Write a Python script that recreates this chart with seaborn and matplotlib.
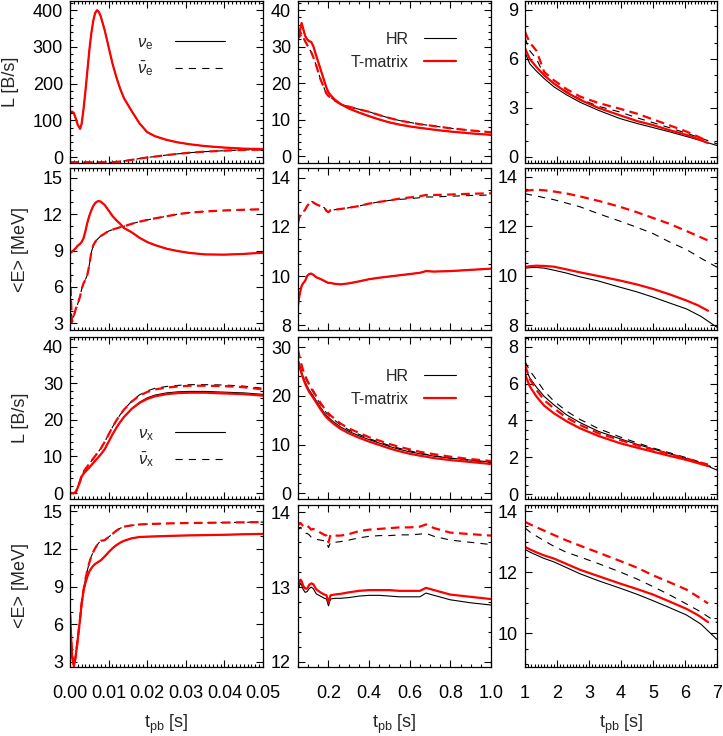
import matplotlib
matplotlib.use("Agg")
import matplotlib.pyplot as plt
from matplotlib.lines import Line2D
from matplotlib.ticker import MultipleLocator
import seaborn as sns

# ---------------- column 1 : t_pb 0 - 0.05 s ----------------
t1 = [0, 0.0005, 0.001, 0.0015, 0.002, 0.0026, 0.003, 0.0035, 0.004, 0.0045,
      0.005, 0.0055, 0.006, 0.0065, 0.007, 0.0075, 0.008, 0.009, 0.01, 0.011,
      0.012, 0.013, 0.014, 0.016, 0.018, 0.02, 0.022, 0.025, 0.028, 0.031,
      0.035, 0.04, 0.045, 0.05]

nue_L_c1 = [121, 124, 120, 105, 88, 77, 90, 130, 180, 235,
            290, 335, 370, 392, 400, 395, 382, 345, 300, 255,
            218, 186, 160, 125, 92, 68, 57, 47, 40, 35,
            30, 26, 23, 22]
anue_L_c1 = [-14, -14, -14, -14, -14, -14, -14, -14, -14, -14,
             -14, -14, -14, -14, -14, -14, -14, -14, -14, -14,
             -13, -12, -10.5, -7.5, -4, -1, 1.5, 5.5, 9, 12,
             15, 17.5, 19.5, 20.5]
nue_E_c1 = [8.77, 8.9, 9.05, 9.2, 9.4, 9.55, 9.7, 10.0, 10.6, 11.3,
            11.85, 12.3, 12.65, 12.9, 13.03, 13.08, 13.02, 12.75, 12.3, 11.85,
            11.5, 11.2, 10.85, 10.5, 10.05, 9.7, 9.45, 9.15, 8.95, 8.8,
            8.68, 8.66, 8.72, 8.82]
anue_E_c1 = [7.1, 3.1, 3.6, 4.2, 4.6, 5.2, 5.8, 6.3, 6.6, 7.0,
             7.8, 8.8, 9.4, 9.7, 9.9, 10.05, 10.2, 10.4, 10.6, 10.72,
             10.82, 10.92, 11.0, 11.2, 11.38, 11.52, 11.65, 11.82, 12.0, 12.12,
             12.22, 12.3, 12.36, 12.4]
nux_L_c1 = [0, 0, 0, 0.3, 1.5, 3.2, 4.5, 5.3, 5.9, 6.4,
            7.0, 7.6, 8.2, 8.8, 9.4, 10.0, 10.6, 12.0, 14.0, 16.0,
            17.8, 19.4, 20.8, 23.0, 24.6, 25.7, 26.4, 27.0, 27.3, 27.4,
            27.4, 27.2, 27.0, 26.6]
anux_L_c1 = [0, 0, 0, 0.3, 1.5, 3.3, 4.8, 5.8, 6.6, 7.3,
             8.0, 8.7, 9.4, 10.1, 10.8, 11.5, 12.2, 14.0, 16.0, 18.0,
             19.8, 21.4, 22.8, 25.0, 26.6, 27.6, 28.3, 28.8, 29.1, 29.3,
             29.3, 29.2, 28.9, 28.3]
nux_L_c1_hr = [0, 0, 0, 0.3, 1.5, 3.2, 4.5, 5.3, 5.9, 6.4,
               7.0, 7.6, 8.2, 8.8, 9.4, 10.0, 10.6, 12.0, 14.0, 16.0,
               17.8, 19.4, 20.8, 23.1, 24.8, 26.0, 26.75, 27.35, 27.65, 27.75,
               27.75, 27.55, 27.35, 26.95]
anux_L_c1_hr = [0, 0, 0, 0.3, 1.5, 3.3, 4.8, 5.8, 6.6, 7.3,
                8.0, 8.7, 9.4, 10.1, 10.8, 11.5, 12.2, 14.0, 16.0, 18.0,
                19.8, 21.4, 22.8, 25.1, 26.8, 27.9, 28.6, 29.1, 29.4, 29.6,
                29.6, 29.5, 29.2, 28.6]
nux_E_c1 = [6.8, 3.6, 2.65, 3.5, 4.8, 6.4, 7.6, 8.7, 9.3, 9.8,
            10.2, 10.45, 10.65, 10.8, 10.9, 11.0, 11.1, 11.4, 11.75, 12.05,
            12.3, 12.5, 12.65, 12.85, 12.95, 12.98, 13.0, 13.03, 13.06, 13.08,
            13.1, 13.13, 13.17, 13.2]
anux_E_c1 = [6.8, 3.6, 2.65, 3.5, 4.8, 6.4, 7.6, 8.7, 9.6, 10.3,
             10.9, 11.4, 11.75, 12.05, 12.3, 12.5, 12.65, 12.7, 12.95, 13.2,
             13.45, 13.65, 13.78, 13.88, 13.95, 13.98, 14.0, 14.03, 14.05, 14.07,
             14.08, 14.1, 14.12, 14.14]

# ---------------- column 2 : t_pb 0.05 - 1.0 s ----------------
t2 = [0.05, 0.055, 0.062, 0.068, 0.075, 0.085, 0.095, 0.105, 0.115, 0.125,
      0.14, 0.16, 0.18, 0.19, 0.2, 0.21, 0.23, 0.26, 0.3, 0.35,
      0.4, 0.45, 0.5, 0.55, 0.6, 0.65, 0.68, 0.72, 0.8, 0.9, 1.0]

nue_L_c2 = [34, 32.5, 35, 36.5, 35, 33, 32, 31.5, 31.3, 30.2,
            27.5, 24, 20.5, 18.8, 17.5, 16.8, 15.6, 14.3, 13.1, 12.0,
            11.0, 10.1, 9.3, 8.7, 8.2, 7.8, 7.6, 7.3, 6.8, 6.3, 5.9]
anue_L_c2 = [34.5, 33.2, 33, 33.5, 32.8, 31.5, 30.5, 29.5, 28.5, 27.2,
             24.8, 21.2, 18.5, 17.2, 16.5, 16.2, 15.3, 14.3, 13.6, 12.9,
             12.2, 11.3, 10.5, 9.8, 9.3, 8.8, 8.6, 8.3, 7.7, 7.1, 6.6]
nue_E_c2 = [8.8, 9.1, 9.4, 9.6, 9.7, 9.8, 10.0, 10.08, 10.1, 10.05,
            9.95, 9.88, 9.8, 9.75, 9.72, 9.72, 9.68, 9.66, 9.7, 9.78,
            9.87, 9.93, 9.98, 10.03, 10.08, 10.13, 10.2, 10.18, 10.2, 10.25, 10.3]
anue_E_c2 = [12.15, 12.35, 12.5, 12.55, 12.6, 12.7, 12.85, 12.95, 13.05, 13.0,
             12.92, 12.85, 12.78, 12.65, 12.6, 12.68, 12.7, 12.73, 12.78, 12.85,
             12.95, 13.02, 13.08, 13.15, 13.2, 13.25, 13.3, 13.3, 13.32, 13.35, 13.37]
anue_E_c2_hr = [12.15, 12.35, 12.5, 12.55, 12.6, 12.7, 12.85, 12.95, 13.05, 13.0,
                12.92, 12.85, 12.78, 12.65, 12.6, 12.68, 12.7, 12.73, 12.78, 12.85,
                12.95, 13.02, 13.08, 13.12, 13.15, 13.19, 13.22, 13.22, 13.25, 13.28, 13.3]
nux_L_c2 = [27.2, 26.4, 25.3, 24.5, 23.6, 22.5, 21.6, 20.8, 20.2, 19.6,
            18.6, 17.3, 16.1, 15.6, 15.2, 14.8, 14.1, 13.2, 12.3, 11.4,
            10.6, 9.9, 9.2, 8.6, 8.1, 7.7, 7.5, 7.2, 6.8, 6.4, 6.0]
nux_L_c2_hr = [27.6, 26.8, 25.7, 24.9, 24.0, 22.9, 22.0, 21.2, 20.6, 20.0,
               19.0, 17.7, 16.5, 16.0, 15.6, 15.2, 14.5, 13.6, 12.7, 11.8,
               11.0, 10.3, 9.6, 9.0, 8.5, 8.1, 7.9, 7.6, 7.2, 6.8, 6.4]
anux_L_c2 = [29.5, 28.5, 27.3, 26.3, 25.3, 24.2, 23.2, 22.4, 21.7, 21.0,
             19.9, 18.6, 17.4, 16.8, 16.4, 16.0, 15.3, 14.3, 13.3, 12.4,
             11.5, 10.8, 10.1, 9.5, 9.0, 8.5, 8.3, 8.0, 7.5, 7.0, 6.6]
anux_L_c2_hr = [29.2, 28.2, 27.0, 26.0, 25.0, 23.9, 22.9, 22.1, 21.4, 20.7,
                19.6, 18.3, 17.1, 16.5, 16.1, 15.7, 15.0, 14.0, 13.0, 12.1,
                11.2, 10.5, 9.8, 9.2, 8.7, 8.2, 8.0, 7.7, 7.2, 6.7, 6.3]
nux_E_c2 = [13.09, 13.05, 13.1, 13.08, 13.02, 12.98, 12.98, 13.03, 13.05, 13.04,
            12.97, 12.93, 12.9, 12.89, 12.8, 12.89, 12.9, 12.91, 12.93, 12.95,
            12.96, 12.96, 12.96, 12.95, 12.95, 12.95, 12.99, 12.96, 12.9, 12.87, 12.84]
nux_E_c2_hr = [13.05, 13.0, 13.05, 13.03, 12.97, 12.93, 12.94, 12.98, 13.0, 12.98,
               12.91, 12.88, 12.85, 12.84, 12.75, 12.84, 12.85, 12.85, 12.86, 12.88,
               12.89, 12.89, 12.88, 12.87, 12.87, 12.87, 12.92, 12.89, 12.83, 12.79, 12.76]
anux_E_c2 = [13.87, 13.84, 13.86, 13.84, 13.82, 13.8, 13.82, 13.8, 13.77, 13.78,
             13.76, 13.73, 13.7, 13.69, 13.6, 13.7, 13.69, 13.69, 13.71, 13.75,
             13.77, 13.78, 13.79, 13.8, 13.8, 13.81, 13.84, 13.79, 13.73, 13.71, 13.69]
anux_E_c2_hr = [13.82, 13.78, 13.8, 13.77, 13.75, 13.72, 13.72, 13.7, 13.67, 13.66,
                13.64, 13.63, 13.62, 13.61, 13.53, 13.6, 13.6, 13.61, 13.63, 13.66,
                13.68, 13.69, 13.69, 13.7, 13.7, 13.71, 13.72, 13.68, 13.63, 13.6, 13.57]

# ---------------- column 3 : t_pb 1 - 7 s ----------------
t3_tm = [1.0, 1.15, 1.36, 1.6, 1.9, 2.3, 2.72, 3.3, 3.97, 4.5, 5.0, 5.5, 6.05, 6.4, 6.72]
t3_hr = [1.0, 1.15, 1.36, 1.6, 1.9, 2.3, 2.72, 3.3, 3.97, 4.5, 5.0, 5.5, 6.05, 6.5, 7.0]

nue_L_c3 = [6.65, 6.0, 5.5, 5.0, 4.5, 3.95, 3.5, 3.0, 2.55, 2.2, 1.95, 1.65, 1.35, 1.1, 0.85]
anue_L_c3 = [7.65, 7.0, 6.5, 5.2, 4.7, 4.15, 3.7, 3.3, 2.95, 2.65, 2.3, 1.95, 1.55, 1.25, 0.95]
nue_L_c3_hr = [6.4, 5.7, 5.25, 4.8, 4.3, 3.8, 3.35, 2.85, 2.35, 2.05, 1.8, 1.55, 1.25, 1.0, 0.7]
anue_L_c3_hr = [7.3, 6.5, 6.0, 5.0, 4.5, 4.0, 3.55, 3.1, 2.75, 2.4, 2.1, 1.8, 1.45, 1.15, 0.8]
nue_E_c3 = [10.34, 10.38, 10.4, 10.39, 10.36, 10.25, 10.13, 9.98, 9.8, 9.64, 9.46, 9.25, 8.99, 8.8, 8.58]
anue_E_c3 = [13.42, 13.45, 13.47, 13.45, 13.4, 13.32, 13.2, 13.02, 12.78, 12.56, 12.33, 12.1, 11.8, 11.6, 11.42]
nue_E_c3_hr = [10.3, 10.32, 10.33, 10.3, 10.22, 10.1, 9.95, 9.78, 9.53, 9.34, 9.13, 8.9, 8.65, 8.35, 7.91]
anue_E_c3_hr = [13.31, 13.27, 13.22, 13.15, 13.07, 12.93, 12.78, 12.5, 12.2, 11.95, 11.7, 11.37, 11.05, 10.7, 10.34]
nux_L_c3 = [6.5, 5.85, 5.29, 4.8, 4.39, 3.95, 3.57, 3.15, 2.76, 2.52, 2.3, 2.08, 1.85, 1.68, 1.52]
anux_L_c3 = [7.0, 6.25, 5.65, 5.1, 4.66, 4.15, 3.75, 3.3, 2.93, 2.65, 2.42, 2.18, 1.93, 1.75, 1.6]
nux_L_c3_hr = [6.9, 6.3, 5.8, 5.3, 4.85, 4.3, 3.88, 3.4, 3.0, 2.7, 2.45, 2.2, 1.92, 1.68, 1.3]
anux_L_c3_hr = [7.2, 6.7, 6.2, 5.6, 5.05, 4.5, 4.05, 3.55, 3.1, 2.78, 2.5, 2.25, 1.97, 1.72, 1.35]
nux_E_c3 = [12.83, 12.75, 12.65, 12.55, 12.45, 12.27, 12.08, 11.87, 11.63, 11.45, 11.27, 11.05, 10.8, 10.6, 10.37]
anux_E_c3 = [13.65, 13.57, 13.47, 13.36, 13.22, 13.04, 12.87, 12.64, 12.37, 12.15, 11.9, 11.68, 11.43, 11.2, 10.98]
nux_E_c3_hr = [12.75, 12.66, 12.56, 12.45, 12.34, 12.15, 11.95, 11.72, 11.48, 11.28, 11.07, 10.85, 10.6, 10.3, 9.8]
anux_E_c3_hr = [13.45, 13.32, 13.18, 13.03, 12.85, 12.65, 12.5, 12.28, 12.01, 11.78, 11.53, 11.27, 10.96, 10.7, 10.35]

# ---------------- style ----------------
sns.set_style("ticks")
plt.rcParams["font.family"] = ["Liberation Sans", "DejaVu Sans"]
plt.rcParams["mathtext.fontset"] = "custom"
plt.rcParams["mathtext.rm"] = "Liberation Sans"
plt.rcParams["mathtext.it"] = "Liberation Sans:italic"
plt.rcParams["font.size"] = 13

RED_DASH = (0, (3.9, 2.4))
BLK_DASH = (0, (6.5, 5.5))


def curve(ax, t, y, hr=False, dashed=False):
    if hr:
        sns.lineplot(x=t, y=y, ax=ax, color="black", linewidth=0.8,
                     linestyle=BLK_DASH if dashed else "-",
                     estimator=None, sort=False, errorbar=None)
    else:
        sns.lineplot(x=t, y=y, ax=ax, color="red", linewidth=1.6,
                     linestyle=RED_DASH if dashed else "-",
                     estimator=None, sort=False, errorbar=None)


fig = plt.figure(figsize=(7.23, 7.36), dpi=100)
lefts = [70, 298, 525]
widths = [193, 193, 192]
tops = [1, 168, 337, 505]
axes = [[fig.add_axes([lefts[c] / 723, 1 - (tops[r] + 162) / 736,
                       widths[c] / 723, 162 / 736]) for c in range(3)]
        for r in range(4)]

# row 1: nu_e luminosity
curve(axes[0][0], t1, nue_L_c1, hr=True)
curve(axes[0][0], t1, anue_L_c1, hr=True, dashed=True)
curve(axes[0][0], t1, nue_L_c1)
curve(axes[0][0], t1, anue_L_c1, dashed=True)
curve(axes[0][1], t2, nue_L_c2, hr=True)
curve(axes[0][1], t2, anue_L_c2, hr=True, dashed=True)
curve(axes[0][1], t2, nue_L_c2)
curve(axes[0][1], t2, anue_L_c2, dashed=True)
curve(axes[0][2], t3_hr, nue_L_c3_hr, hr=True)
curve(axes[0][2], t3_hr, anue_L_c3_hr, hr=True, dashed=True)
curve(axes[0][2], t3_tm, nue_L_c3)
curve(axes[0][2], t3_tm, anue_L_c3, dashed=True)

# row 2: nu_e mean energy
curve(axes[1][0], t1, nue_E_c1, hr=True)
curve(axes[1][0], t1, anue_E_c1, hr=True, dashed=True)
curve(axes[1][0], t1, nue_E_c1)
curve(axes[1][0], t1, anue_E_c1, dashed=True)
curve(axes[1][1], t2, nue_E_c2, hr=True)
curve(axes[1][1], t2, anue_E_c2_hr, hr=True, dashed=True)
curve(axes[1][1], t2, nue_E_c2)
curve(axes[1][1], t2, anue_E_c2, dashed=True)
curve(axes[1][2], t3_hr, nue_E_c3_hr, hr=True)
curve(axes[1][2], t3_hr, anue_E_c3_hr, hr=True, dashed=True)
curve(axes[1][2], t3_tm, nue_E_c3)
curve(axes[1][2], t3_tm, anue_E_c3, dashed=True)

# row 3: nu_x luminosity
curve(axes[2][0], t1, nux_L_c1_hr, hr=True)
curve(axes[2][0], t1, anux_L_c1_hr, hr=True, dashed=True)
curve(axes[2][0], t1, nux_L_c1)
curve(axes[2][0], t1, anux_L_c1, dashed=True)
curve(axes[2][1], t2, nux_L_c2_hr, hr=True)
curve(axes[2][1], t2, anux_L_c2_hr, hr=True, dashed=True)
curve(axes[2][1], t2, nux_L_c2)
curve(axes[2][1], t2, anux_L_c2, dashed=True)
curve(axes[2][2], t3_hr, nux_L_c3_hr, hr=True)
curve(axes[2][2], t3_hr, anux_L_c3_hr, hr=True, dashed=True)
curve(axes[2][2], t3_tm, nux_L_c3)
curve(axes[2][2], t3_tm, anux_L_c3, dashed=True)

# row 4: nu_x mean energy
curve(axes[3][0], t1, nux_E_c1, hr=True)
curve(axes[3][0], t1, anux_E_c1, hr=True, dashed=True)
curve(axes[3][0], t1, nux_E_c1)
curve(axes[3][0], t1, anux_E_c1, dashed=True)
curve(axes[3][1], t2, nux_E_c2_hr, hr=True)
curve(axes[3][1], t2, anux_E_c2_hr, hr=True, dashed=True)
curve(axes[3][1], t2, nux_E_c2)
curve(axes[3][1], t2, anux_E_c2, dashed=True)
curve(axes[3][2], t3_hr, nux_E_c3_hr, hr=True)
curve(axes[3][2], t3_hr, anux_E_c3_hr, hr=True, dashed=True)
curve(axes[3][2], t3_tm, nux_E_c3)
curve(axes[3][2], t3_tm, anux_E_c3, dashed=True)

# ---------------- axes ----------------
xlims = [(0, 0.05), (0.05, 1.0), (1, 7)]
xticks = [[0, 0.01, 0.02, 0.03, 0.04, 0.05],
          [0.2, 0.4, 0.6, 0.8, 1.0],
          [1, 2, 3, 4, 5, 6, 7]]
xticklabels = [["0.00", "0.01", "0.02", "0.03", "0.04", "0.05"],
               ["0.2", "0.4", "0.6", "0.8", "1.0"],
               ["1", "2", "3", "4", "5", "6", "7"]]
xminor = [0.001, 0.05, 0.1]

ylims = [[(-16, 425), (-1.8, 42.5), (-0.37, 9.55)],
         [(2.45, 15.8), (7.8, 14.4), (7.8, 14.35)],
         [(-1.6, 42.6), (-1.2, 32.1), (-0.27, 8.53)],
         [(2.6, 15.5), (11.93, 14.1), (8.9, 14.2)]]
ymajor = [[100, 10, 3], [3, 2, 2], [10, 10, 2], [3, 1, 2]]
yminor = [[20, 2, 1], [1, 0.5, 0.5], [2, 2, 0.5], [1, 0.2, 0.5]]
ylabels = ["L [B/s]", "<E> [MeV]", "L [B/s]", "<E> [MeV]"]

for r in range(4):
    for c in range(3):
        ax = axes[r][c]
        ax.set_xlim(*xlims[c])
        ax.set_ylim(*ylims[r][c])
        ax.set_xticks(xticks[c])
        ax.set_xticklabels(xticklabels[c])
        ax.xaxis.set_minor_locator(MultipleLocator(xminor[c]))
        ax.yaxis.set_major_locator(MultipleLocator(ymajor[r][c]))
        ax.yaxis.set_minor_locator(MultipleLocator(yminor[r][c]))
        ax.tick_params(which="both", direction="in", top=True, right=True,
                       width=0.8, colors="black", labelsize=13)
        ax.tick_params(which="major", length=5)
        ax.tick_params(which="minor", length=2.5)
        ax.tick_params(axis="y", pad=5)
        ax.tick_params(axis="x", pad=13)
        for sp in ax.spines.values():
            sp.set_visible(True)
            sp.set_linewidth(0.9)
            sp.set_color("black")
        ax.set_xlabel("")
        ax.set_ylabel("")
        if r < 3:
            ax.tick_params(labelbottom=False)
        else:
            ax.set_xlabel(r"t$_{\rm pb}$ [s]", fontsize=13, labelpad=8)
        if c == 0:
            ax.set_ylabel(ylabels[r], fontsize=13, labelpad=10)

# ---------------- legends ----------------
blk_solid = Line2D([], [], color="black", lw=0.8)
blk_dash = Line2D([], [], color="black", lw=0.8, linestyle=BLK_DASH)
red_solid = Line2D([], [], color="red", lw=1.6)

axes[0][0].legend([blk_solid, blk_dash], [r"$\nu_{\rm e}$", r"$\bar{\nu}_{\rm e}$"],
                  loc="upper right", bbox_to_anchor=(0.805, 0.79), frameon=False,
                  markerfirst=False, handlelength=3.0, handletextpad=1.3,
                  labelspacing=0.45, borderpad=0, borderaxespad=0, fontsize=12)
axes[2][0].legend([blk_solid, blk_dash], [r"$\nu_{\rm x}$", r"$\bar{\nu}_{\rm x}$"],
                  loc="upper right", bbox_to_anchor=(0.805, 0.45), frameon=False,
                  markerfirst=False, handlelength=3.0, handletextpad=1.3,
                  labelspacing=0.45, borderpad=0, borderaxespad=0, fontsize=12)
for r, ytop in [(0, 0.81), (2, 0.805)]:
    axes[r][1].legend([blk_solid, red_solid], ["HR", "T-matrix"],
                      loc="upper right", bbox_to_anchor=(0.82, ytop), frameon=False,
                      markerfirst=False, handlelength=2.0, handletextpad=1.0,
                      labelspacing=0.5, borderpad=0, borderaxespad=0, fontsize=11.5)

fig.savefig("out.png", dpi=100)
